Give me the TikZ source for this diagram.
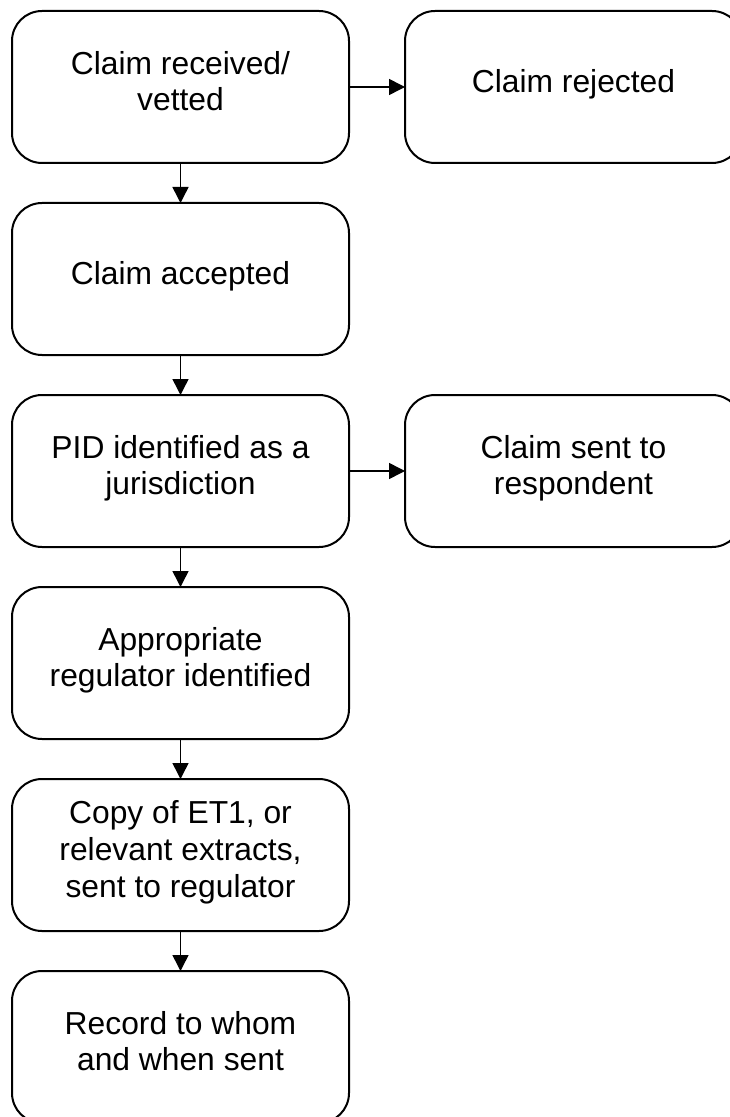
\documentclass[tikz,border=0pt]{standalone}
\usepackage{fontspec}
\setmainfont{Liberation Sans}
\usetikzlibrary{positioning,arrows.meta}

\tikzset{
	stage/.style={draw, line width=1pt, rounded corners=15pt, minimum width=168.5pt,
		minimum height=76pt, inner sep=0pt, outer sep=0pt, align=center, text depth=6pt,
		font=\fontsize{15.9}{18.3}\selectfont},
	flow/.style={line width=0.75pt, -{Triangle[length=8pt,width=8pt]}}
}

\begin{document}
\begin{tikzpicture}[x=0.5pt, y=-0.5pt, node distance=20pt and 28pt]
	\useasboundingbox (0,0) rectangle (729,1117);
	
	\node[stage] (received) at (180.5,87) {Claim received/\\vetted};
	\node[stage, right=of received] (rejected) {Claim rejected};
	\node[stage, below=of received] (accepted) {Claim accepted};
	\node[stage, below=of accepted] (pid) {PID identified as a\\jurisdiction};
	\node[stage, right=of pid] (respondent) {Claim sent to\\respondent};
	\node[stage, below=of pid] (regulator) {Appropriate\\regulator identified};
	\node[stage, below=of regulator] (copy) {Copy of ET1, or\\relevant extracts,\\sent to regulator};
	\node[stage, below=of copy] (record) {Record to whom\\and when sent};
	
	\draw[flow] (received) -- (rejected);
	\draw[flow] (received) -- (accepted);
	\draw[flow] (accepted) -- (pid);
	\draw[flow] (pid) -- (respondent);
	\draw[flow] (pid) -- (regulator);
	\draw[flow] (regulator) -- (copy);
	\draw[flow] (copy) -- (record);
	
\end{tikzpicture}
\end{document}
